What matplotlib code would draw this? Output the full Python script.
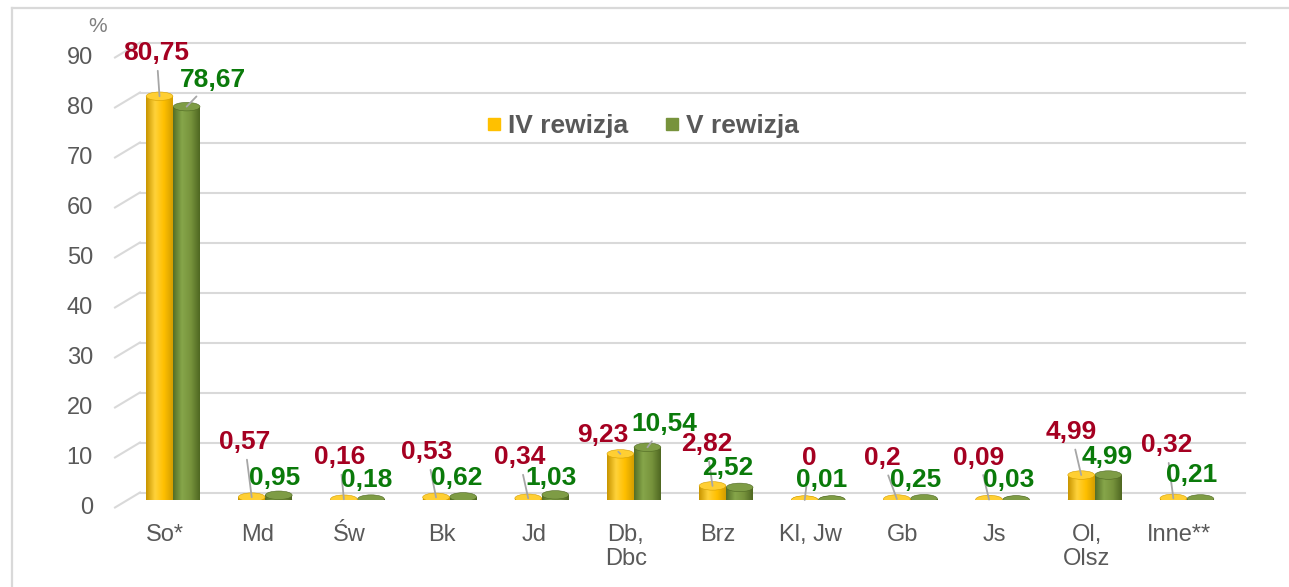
import matplotlib
matplotlib.use('Agg')
import matplotlib.pyplot as plt
import matplotlib.transforms as mtrans
from matplotlib.patches import Rectangle, Ellipse
from matplotlib.colors import LinearSegmentedColormap
from matplotlib.lines import Line2D
import numpy as np

plt.rcParams['font.family'] = ['Liberation Sans', 'DejaVu Sans']

# dane
categories = ['So*', 'Md', 'Św', 'Bk', 'Jd', 'Db,\nDbc', 'Brz', 'Kl, Jw', 'Gb', 'Js', 'Ol,\nOlsz', 'Inne**']
rew_iv = [80.75, 0.57, 0.16, 0.53, 0.34, 9.23, 2.82, 0, 0.2, 0.09, 4.99, 0.32]
rew_v = [78.67, 0.95, 0.18, 0.62, 1.03, 10.54, 2.52, 0.01, 0.25, 0.03, 4.99, 0.21]
series_names = ['IV rewizja', 'V rewizja']
yticks = [0, 10, 20, 30, 40, 50, 60, 70, 80, 90]

# kolory
YEL = ['#C99500', '#FFD23A', '#FFC000', '#D49E00']
YEL_TOP = '#FFCF33'
GRN = ['#556F27', '#86A64A', '#77933C', '#4F6822']
GRN_TOP = '#7E9C45'
RED_TXT = '#A50021'
GRN_TXT = '#0A7A0A'
GRAY_TXT = '#595959'
GRID = '#D9D9D9'

# przesuniecia etykiet (piksele) wzgledem szczytu slupka
off_iv = [(-3, 43), (-7, 55), (-4, 42), (-9, 45), (-9, 41), (-18, 19),
          (-6, 42), (5, 42), (-15, 41), (-10, 42), (-10, 43), (-7, 53)]
off_v = [(26, 27), (-4, 17), (-4, 19), (-6, 19), (-4, 17), (17, 23),
         (-12, 19), (-10, 20), (-8, 19), (-7, 20), (-1, 18), (-9, 24)]
leader_v = [0, 5]

W, H = 1289, 587
fig = plt.figure(figsize=(W / 100, H / 100), dpi=100)
ax = fig.add_axes([127 / W, 1 - 500 / H, (1233 - 127) / W, 450 / H])
ax.set_xlim(-0.5, 11.5)
ax.set_ylim(0, 90)
ax.axis('off')

# ramka
fig.add_artist(Line2D([12 / W, 12 / W], [0, 1 - 8 / H], color=GRID, lw=1.6))
fig.add_artist(Line2D([12 / W, 1], [1 - 8 / H, 1 - 8 / H], color=GRID, lw=1.6))

# siatka (sciana tylna + skosy)
back = mtrans.blended_transform_factory(fig.transFigure,
                                        mtrans.offset_copy(ax.transData, fig, y=7.5, units='dots'))
front = mtrans.blended_transform_factory(fig.transFigure,
                                         mtrans.offset_copy(ax.transData, fig, y=-7.5, units='dots'))
for t in yticks:
    ax.plot([140 / W, 1245 / W], [t, t], transform=back, color=GRID, lw=1.5,
            clip_on=False, zorder=0)
    p0 = front.transform((115 / W, t))
    p1 = back.transform((140 / W, t))
    ax.plot([p0[0], p1[0]], [p0[1], p1[1]], transform=None, color=GRID, lw=1.5,
            clip_on=False, zorder=0)
    ax.text(93 / W, t, str(t), transform=front, ha='right', va='center',
            fontsize=17, color=GRAY_TXT)

ax.text(98 / W, 1 - 27 / H, '%', transform=fig.transFigure, ha='center', va='center',
        fontsize=15, color='#7F7F7F')

x = np.arange(len(categories))
bw = 0.29
eh = 1.7


def cylinder(xc, v, cols, top_col, z):
    cmap = LinearSegmentedColormap.from_list('c', cols)
    x0, x1 = xc - bw / 2, xc + bw / 2
    ax.add_patch(Ellipse((xc, 0), bw, eh, facecolor=cols[3], edgecolor='none', zorder=z))
    if v > 0:
        rect = Rectangle((x0, 0), bw, v, facecolor='none', edgecolor='none', zorder=z)
        ax.add_patch(rect)
        im = ax.imshow(np.linspace(0, 1, 60).reshape(1, -1), cmap=cmap, extent=(x0, x1, 0, v),
                       aspect='auto', zorder=z, interpolation='bilinear')
        im.set_clip_path(rect)
    ax.add_patch(Ellipse((xc, v), bw, eh, facecolor=top_col, edgecolor=cols[3],
                         lw=0.4, zorder=z + 0.1))


for i in range(len(categories)):
    cylinder(x[i] + 0.147, rew_v[i], GRN, GRN_TOP, 3 + i * 0.01)
    cylinder(x[i] - 0.147, rew_iv[i], YEL, YEL_TOP, 4 + i * 0.01)

ax.set_xlim(-0.5, 11.5)
ax.set_ylim(0, 90)


def fmt(v):
    return str(v).replace('.', ',')


for i in range(len(categories)):
    ax.annotate(fmt(rew_iv[i]), xy=(x[i] - 0.147, rew_iv[i]), xytext=off_iv[i],
                textcoords='offset pixels', ha='center', va='center', fontsize=19,
                fontweight='bold', color=RED_TXT, zorder=10,
                arrowprops=dict(arrowstyle='-', color='#A6A6A6', lw=1.3, shrinkA=2, shrinkB=0))
    ap = dict(arrowstyle='-', color='#A6A6A6', lw=1.3, shrinkA=2, shrinkB=0) if i in leader_v else None
    ax.annotate(fmt(rew_v[i]), xy=(x[i] + 0.147, rew_v[i]), xytext=off_v[i],
                textcoords='offset pixels', ha='center', va='center', fontsize=19,
                fontweight='bold', color=GRN_TXT, zorder=10, arrowprops=ap)

# etykiety kategorii
lab_tr = mtrans.offset_copy(ax.transData, fig, x=-8, y=-24, units='dots')
for i, c in enumerate(categories):
    ax.text(x[i], 0, c, transform=lab_tr, ha='center', va='top', fontsize=17,
            color=GRAY_TXT, linespacing=1.1, multialignment='center', clip_on=False)

# legenda
handles = [Line2D([], [], marker='s', ls='none', markersize=8, color=YEL[2]),
           Line2D([], [], marker='s', ls='none', markersize=8, color=GRN[2])]
fig.legend(handles, series_names, loc='center', bbox_to_anchor=(643 / W, 1 - 126 / H),
           ncol=2, frameon=False, handlelength=0.5, handletextpad=0.3, columnspacing=1.4,
           prop=dict(size=19, weight='bold'), labelcolor=GRAY_TXT)

fig.savefig('out.png', dpi=100)
